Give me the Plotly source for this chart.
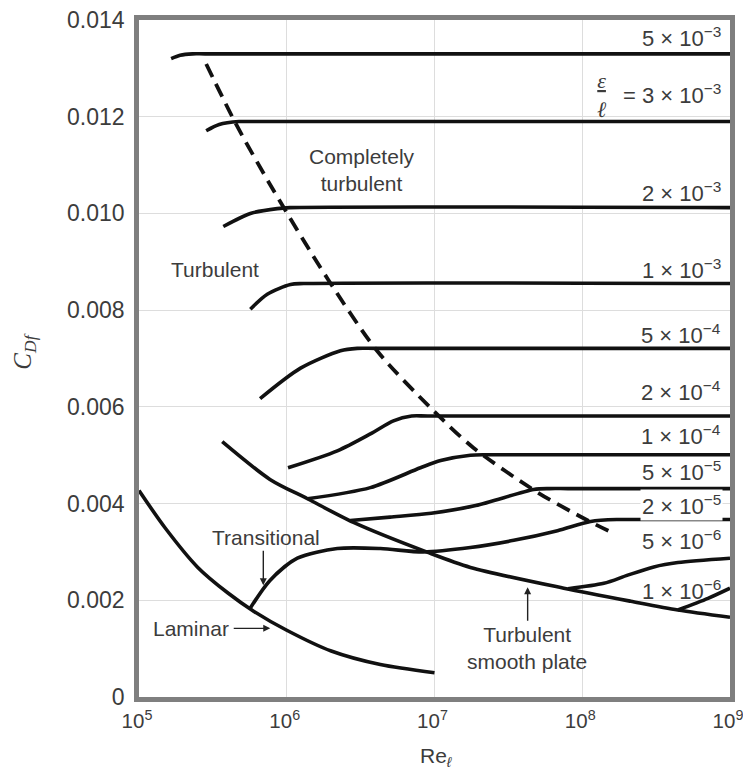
import plotly.graph_objects as go
import math

# ---------------- data ----------------
re_lam = [1.0e5, 1.5e5, 2.5e5, 4.0e5, 6.0e5, 1.0e6, 2.0e6, 4.3e6, 1.0e7]
cd_lam = [0.00427, 0.00350, 0.00268, 0.00215, 0.00177, 0.00138, 0.00095, 0.00067, 0.00050]

re_smooth = [3.66e5, 7.7e5, 1.38e6, 2.83e6, 9.0e6, 1.75e7, 7.5e7, 2.13e8, 4.44e8, 1.0e9]
cd_smooth = [0.00528, 0.00450, 0.00410, 0.00361, 0.00299, 0.00268, 0.00225, 0.00198, 0.00180, 0.00165]

# transitional curve, continuing as the 2e-5 roughness curve
re_trans = [5.67e5, 7.7e5, 1.18e6, 2.2e6, 4.3e6, 8.4e6, 1.75e7, 3.44e7, 6.8e7, 1.14e8, 1.74e8, 2.6e8, 1.0e9]
cd_trans = [0.00184, 0.00241, 0.00287, 0.00307, 0.00307, 0.00300, 0.00309, 0.00324, 0.00344, 0.00363, 0.00367, 0.00367, 0.00367]

re_r5e3 = [1.65e5, 1.9e5, 2.3e5, 2.8e5, 1.0e9]
cd_r5e3 = [0.0132, 0.01327, 0.0133, 0.0133, 0.0133]
re_r3e3 = [2.85e5, 3.49e5, 4.76e5, 5.8e5, 1.0e9]
cd_r3e3 = [0.01171, 0.01184, 0.0119, 0.0119, 0.0119]
re_r2e3 = [3.72e5, 5.67e5, 8.63e5, 1.05e6, 1.0e9]
cd_r2e3 = [0.00973, 0.0100, 0.0101, 0.01012, 0.01012]
re_r1e3 = [5.67e5, 7.38e5, 1.06e6, 1.3e6, 1.0e9]
cd_r1e3 = [0.00802, 0.00833, 0.00853, 0.00855, 0.00855]
re_r5e4 = [6.6e5, 1.24e6, 2.31e6, 3.0e6, 4.0e6, 1.0e9]
cd_r5e4 = [0.00617, 0.0068, 0.00716, 0.00721, 0.00721, 0.00721]
re_r2e4 = [1.02e6, 2.2e6, 3.68e6, 5.27e6, 7.0e6, 9.0e6, 1.0e9]
cd_r2e4 = [0.00474, 0.00509, 0.00544, 0.00571, 0.00581, 0.00581, 0.00581]
re_r1e4 = [1.38e6, 3.68e6, 8.03e6, 1.1e7, 1.75e7, 2.3e7, 1.0e9]
cd_r1e4 = [0.00410, 0.00433, 0.00474, 0.00489, 0.00500, 0.00501, 0.00501]
re_r5e5 = [2.69e6, 5.0e6, 9.5e6, 1.9e7, 4.69e7, 6.0e7, 8.0e7, 1.0e9]
cd_r5e5 = [0.00365, 0.00372, 0.0038, 0.00396, 0.00429, 0.00431, 0.00431, 0.00431]
re_r5e6 = [8.0e7, 1.4e8, 2.03e8, 3.05e8, 4.44e8, 1.0e9]
cd_r5e6 = [0.00224, 0.00235, 0.00252, 0.00269, 0.00278, 0.00287]
re_r1e6 = [4.44e8, 7.1e8, 1.0e9]
cd_r1e6 = [0.00180, 0.00204, 0.00225]

re_dash = [2.85e5, 4.55e5, 7.98e5, 1.88e6, 4.11e6, 9.84e6, 1.84e7, 4.99e7, 1.09e8, 1.64e8]
cd_dash = [0.01309, 0.01184, 0.01052, 0.00866, 0.00715, 0.00592, 0.00515, 0.00423, 0.00365, 0.00338]

x_tickvals = [1e5, 1e6, 1e7, 1e8, 1e9]
x_ticktext = ["10<sup>5</sup>", "10<sup>6</sup>", "10<sup>7</sup>", "10<sup>8</sup>", "10<sup>9</sup>"]
y_tickvals = [0, 0.002, 0.004, 0.006, 0.008, 0.010, 0.012, 0.014]
y_ticktext = ["0", "0.002", "0.004", "0.006", "0.008", "0.010", "0.012", "0.014"]

rough_labels = ["5 × 10<sup>−3</sup>", "= 3 × 10<sup>−3</sup>", "2 × 10<sup>−3</sup>", "1 × 10<sup>−3</sup>",
                "5 × 10<sup>−4</sup>", "2 × 10<sup>−4</sup>", "1 × 10<sup>−4</sup>", "5 × 10<sup>−5</sup>",
                "2 × 10<sup>−5</sup>", "5 × 10<sup>−6</sup>", "1 × 10<sup>−6</sup>"]
rough_label_y = [0.01365, 0.01247, 0.01045, 0.00885, 0.0075, 0.00633, 0.00542, 0.00468, 0.00398, 0.00324, 0.00221]

# ---------------- figure ----------------
FONT = "Liberation Sans, Arial, sans-serif"
TXT = "#3c3c3c"
fig = go.Figure()

solid_curves = [
    (re_lam, cd_lam), (re_smooth, cd_smooth), (re_trans, cd_trans),
    (re_r5e3, cd_r5e3), (re_r3e3, cd_r3e3), (re_r2e3, cd_r2e3), (re_r1e3, cd_r1e3),
    (re_r5e4, cd_r5e4), (re_r2e4, cd_r2e4), (re_r1e4, cd_r1e4), (re_r5e5, cd_r5e5),
    (re_r5e6, cd_r5e6), (re_r1e6, cd_r1e6),
]
for xs, ys in solid_curves:
    fig.add_trace(go.Scatter(x=xs, y=ys, mode="lines",
                             line=dict(color="#111111", width=3.6, shape="spline", smoothing=0.8),
                             hoverinfo="skip", showlegend=False))

fig.add_trace(go.Scatter(x=re_dash, y=cd_dash, mode="lines",
                         line=dict(color="#111111", width=3.8, shape="spline", smoothing=0.8, dash="14px,8px"),
                         hoverinfo="skip", showlegend=False))


def lx(v):
    return math.log10(v)


annotations = []
xr = lx(8.96e8)
for txt, yv in zip(rough_labels, rough_label_y):
    annotations.append(dict(x=xr, y=yv, xref="x", yref="y", text=txt, showarrow=False,
                            xanchor="right", yanchor="middle",
                            bgcolor="white" if txt.startswith("2 × 10<sup>−5") else "rgba(0,0,0,0)",
                            font=dict(family=FONT, size=22, color=TXT)))
# epsilon / ell fraction
annotations.append(dict(x=lx(1.35e8), y=0.01245, xref="x", yref="y",
                        text="<i><u>ε</u></i><br><i>ℓ</i>", showarrow=False,
                        xanchor="center", yanchor="middle", align="center",
                        font=dict(family="Liberation Serif, serif", size=22, color=TXT)))

annotations += [
    dict(x=lx(3.25e6), y=0.0109, text="Completely<br>turbulent", showarrow=False,
         font=dict(family=FONT, size=21, color=TXT)),
    dict(x=lx(3.27e5), y=0.00885, text="Turbulent", showarrow=False,
         font=dict(family=FONT, size=21, color=TXT)),
    dict(x=lx(7.2e5), y=0.00330, text="Transitional", showarrow=False,
         font=dict(family=FONT, size=21, color=TXT)),
    dict(x=lx(2.25e5), y=0.00142, text="Laminar", showarrow=False,
         font=dict(family=FONT, size=21, color=TXT)),
    dict(x=lx(4.2e7), y=0.00101, text="Turbulent<br>smooth plate", showarrow=False,
         font=dict(family=FONT, size=21, color=TXT)),
    # arrows
    dict(x=lx(6.94e5), y=0.00231, ax=0, ay=-36, text="", showarrow=True,
         arrowhead=2, arrowsize=1, arrowwidth=1.4, arrowcolor="#222"),
    dict(x=lx(7.73e5), y=0.00142, ax=-38, ay=0, text="", showarrow=True,
         arrowhead=2, arrowsize=1, arrowwidth=1.4, arrowcolor="#222"),
    dict(x=lx(4.27e7), y=0.00227, ax=0, ay=35, text="", showarrow=True,
         arrowhead=2, arrowsize=1, arrowwidth=1.4, arrowcolor="#222"),
    # axis titles
    dict(x=-0.193, y=0.51, xref="paper", yref="paper", text="<i>C<sub>Df</sub></i>", showarrow=False,
         xanchor="center", yanchor="middle",
         textangle=-90, font=dict(family="Liberation Serif, serif", size=25, color=TXT)),
    dict(x=0.503, y=-0.088, xref="paper", yref="paper", text="Re<sub><i>ℓ</i></sub>", showarrow=False,
         xanchor="center", yanchor="middle",
         font=dict(family=FONT, size=21, color=TXT)),
]

# the page body has an 8px default margin, so the figure is 8px smaller on each axis
fig.update_layout(
    width=743, height=770,
    margin=dict(l=131, r=21, t=12, b=81),
    paper_bgcolor="white", plot_bgcolor="white",
    showlegend=False,
    annotations=annotations,
    font=dict(family=FONT, size=20, color=TXT),
)
fig.update_xaxes(type="log", range=[5, 9], tickvals=x_tickvals, ticktext=x_ticktext,
                 showgrid=True, gridcolor="#dddddd", gridwidth=1,
                 showline=True, mirror=True, linecolor="#7f7f7f", linewidth=4.5,
                 ticks="", zeroline=False, ticklabelstandoff=2, automargin=False,
                 ticklabeloverflow="allow", ticklabelshift=-2,
                 tickfont=dict(family=FONT, size=20.5, color=TXT))
fig.update_yaxes(range=[0, 0.014], tickvals=y_tickvals, ticktext=y_ticktext,
                 showgrid=True, gridcolor="#dddddd", gridwidth=1,
                 showline=True, mirror=True, linecolor="#7f7f7f", linewidth=4.5,
                 ticks="", zeroline=False, ticklabelstandoff=5, automargin=False,
                 ticklabeloverflow="allow",
                 tickfont=dict(family=FONT, size=23, color=TXT))

fig.write_html("out.html")
